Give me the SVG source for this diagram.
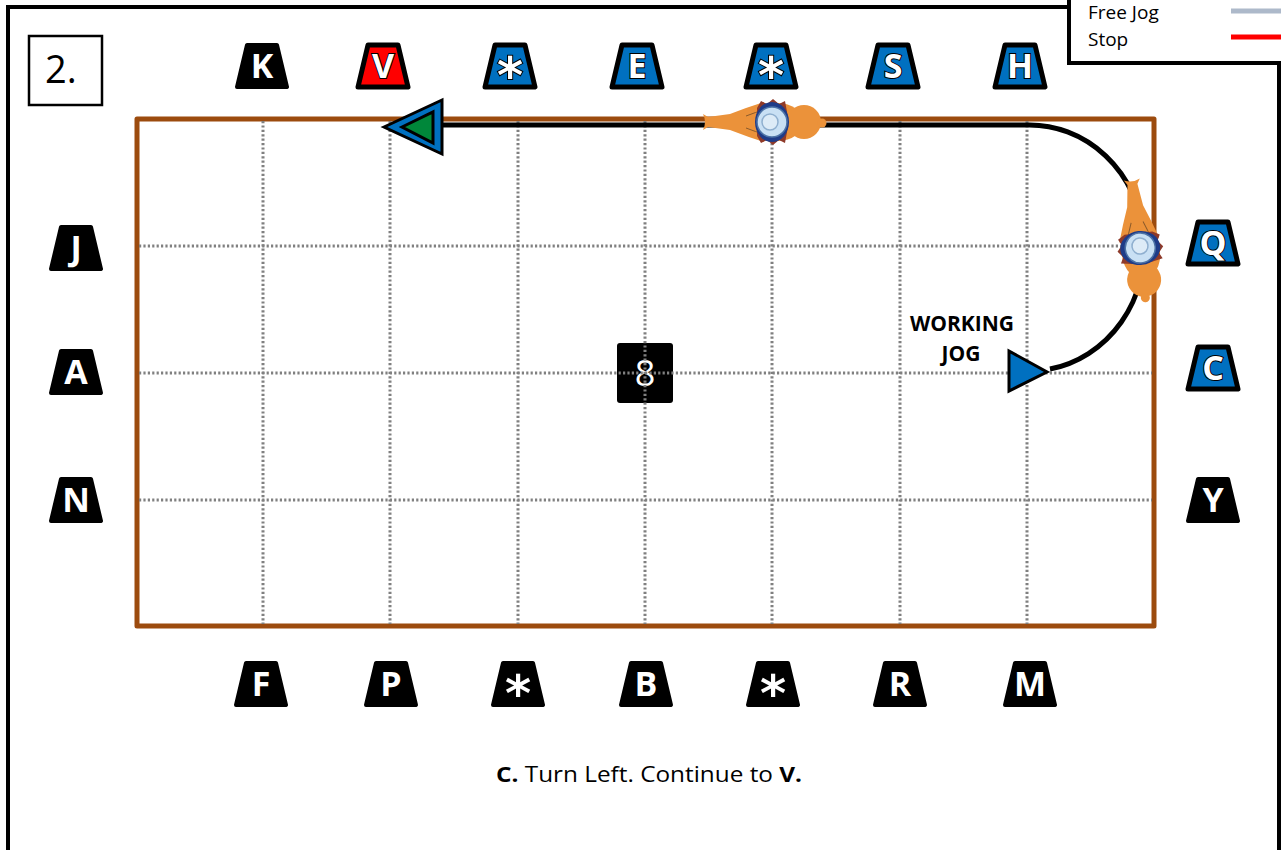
<svg xmlns="http://www.w3.org/2000/svg" xmlns:xlink="http://www.w3.org/1999/xlink" width="1281" height="850" viewBox="0 0 1281 850">
  <style>
    .frame { fill: none; stroke: #000; stroke-width: 4; }
    .arena { fill: none; stroke: #9C4B0E; stroke-width: 5; stroke-linejoin: round; }
    .grid line { stroke: #808080; stroke-width: 3; stroke-dasharray: 2.2 2.2; }
    .mk-black { fill: #000; stroke: #000; stroke-width: 4; stroke-linejoin: round; }
    .mk-blue { fill: #0070C0; stroke: #000; stroke-width: 5; stroke-linejoin: round; }
    .mk-red { fill: #FF0000; stroke: #000; stroke-width: 5; stroke-linejoin: round; }
    .letter { font-family: "Open Sans", "Liberation Sans", sans-serif; font-weight: bold; font-size: 34px; fill: #fff; text-anchor: middle; }
    .outlined { stroke: #000; stroke-width: 2; paint-order: stroke; }
    .star { font-family: "DejaVu Sans", sans-serif; font-weight: bold; font-size: 50px; fill: #fff; text-anchor: middle; }
    .label { font-family: "Open Sans", "Liberation Sans", sans-serif; fill: #000; }
    .route { fill: none; stroke: #000; stroke-width: 5; }
    .tri { stroke: #000; stroke-width: 3; stroke-linejoin: miter; }
  </style>
  <defs>
    <!-- arena letter marker: rounded trapezoid centred on the origin -->
    <path id="mk" d="M -15 -21 L 15 -21 L 25 21 L -25 21 Z"/>
    <!-- horse and rider seen from above, head pointing towards -x -->
    <g id="horse">
      <path d="M -67 -8 L -62 -5 L -40 -8 Q -22 -15 -6 -20 L -6 20 Q -22 15 -40 8 L -62 5 L -67 8 Q -63 0 -67 -8 Z" fill="#EB923A"/>
      <ellipse cx="8" cy="0" rx="25" ry="19" fill="#EB923A"/>
      <circle cx="34" cy="0" r="17" fill="#EB923A"/>
      <circle cx="52" cy="1" r="4.5" fill="#EB923A"/>
      <path d="M -24 -6 Q -14 -10 -6 -12 M -24 6 Q -14 10 -6 12" fill="none" stroke="#8A5A2B" stroke-width="1"/>
      <path d="M -13 -14 L -9 -21 L -3 -18 L 3 -23 L 9 -18 L 15 -21 L 17 -10 L 18 0 L 17 10 L 15 21 L 9 18 L 3 23 L -3 18 L -9 21 L -13 14 Z" fill="#8E3A2A"/>
      <ellipse cx="2" cy="0" rx="17" ry="20" fill="#1F3C88"/>
      <circle cx="2" cy="0" r="15" fill="#C9E0F4" stroke="#4D73A6" stroke-width="1.5"/>
      <circle cx="0" cy="0" r="8" fill="#DDEBF7" stroke="#8FAFCF" stroke-width="1.5"/>
    </g>
  </defs>

  <rect width="1281" height="850" fill="#fff"/>

  <!-- page frame -->
  <path class="frame" d="M 8 852 L 8 7 L 1069 7"/>
  <line class="frame" x1="1279" y1="63" x2="1279" y2="852"/>

  <!-- legend -->
  <g id="legend">
    <path class="frame" d="M 1069 -2 L 1069 63 L 1283 63" stroke-width="3"/>
    <text class="label" x="1088" y="19" font-size="19">Free Jog</text>
    <text class="label" x="1088" y="46" font-size="19">Stop</text>
    <line x1="1231" y1="11" x2="1281" y2="11" stroke="#ADB9CA" stroke-width="5"/>
    <line x1="1231" y1="37" x2="1281" y2="37" stroke="#FF0000" stroke-width="5"/>
  </g>

  <!-- figure number -->
  <g id="figure-number">
    <rect x="29" y="36" width="73" height="69" fill="#fff" stroke="#000" stroke-width="2.5"/>
    <text class="label" x="45" y="83" font-size="38">2.</text>
  </g>

  <!-- arena outline -->
  <rect id="arena" class="arena" x="137" y="119" width="1017" height="507"/>

  <!-- centre marker -->
  <g id="centre-8">
    <rect x="617" y="343" width="56" height="60" rx="3" fill="#000"/>
    <text x="645" y="386" font-family="Open Sans, Liberation Sans, sans-serif" font-size="36" fill="#fff" text-anchor="middle">8</text>
  </g>

  <!-- dotted grid -->
  <g class="grid">
    <line x1="263" y1="121" x2="263" y2="624"/>
    <line x1="390" y1="121" x2="390" y2="624"/>
    <line x1="518" y1="121" x2="518" y2="624"/>
    <line x1="645" y1="121" x2="645" y2="624"/>
    <line x1="772" y1="121" x2="772" y2="624"/>
    <line x1="900" y1="121" x2="900" y2="624"/>
    <line x1="1027" y1="121" x2="1027" y2="624"/>
    <line x1="139" y1="246" x2="1152" y2="246"/>
    <line x1="139" y1="373" x2="1152" y2="373"/>
    <line x1="139" y1="500" x2="1152" y2="500"/>
  </g>

  <!-- top markers -->
  <g id="marker-K" transform="translate(262 66)"><use xlink:href="#mk" class="mk-black"/><text class="letter" y="12">K</text></g>
  <g id="marker-V" transform="translate(383 66)"><use xlink:href="#mk" class="mk-red"/><text class="letter outlined" y="12">V</text></g>
  <g id="marker-top-star-1" transform="translate(510 66)"><use xlink:href="#mk" class="mk-blue"/><text class="star outlined" y="27">*</text></g>
  <g id="marker-E" transform="translate(637 66)"><use xlink:href="#mk" class="mk-blue"/><text class="letter outlined" y="12">E</text></g>
  <g id="marker-top-star-2" transform="translate(771 66)"><use xlink:href="#mk" class="mk-blue"/><text class="star outlined" y="27">*</text></g>
  <g id="marker-S" transform="translate(893 66)"><use xlink:href="#mk" class="mk-blue"/><text class="letter outlined" y="12">S</text></g>
  <g id="marker-H" transform="translate(1020 66)"><use xlink:href="#mk" class="mk-blue"/><text class="letter outlined" y="12">H</text></g>

  <!-- left markers -->
  <g id="marker-J" transform="translate(76 248)"><use xlink:href="#mk" class="mk-black"/><text class="letter" y="12">J</text></g>
  <g id="marker-A" transform="translate(76 372)"><use xlink:href="#mk" class="mk-black"/><text class="letter" y="12">A</text></g>
  <g id="marker-N" transform="translate(76 500)"><use xlink:href="#mk" class="mk-black"/><text class="letter" y="12">N</text></g>

  <!-- right markers -->
  <g id="marker-Q" transform="translate(1213 243)"><use xlink:href="#mk" class="mk-blue"/><text class="letter outlined" y="12">Q</text></g>
  <g id="marker-C" transform="translate(1213 368)"><use xlink:href="#mk" class="mk-blue"/><text class="letter outlined" y="12">C</text></g>
  <g id="marker-Y" transform="translate(1213 500)"><use xlink:href="#mk" class="mk-black"/><text class="letter" y="12">Y</text></g>

  <!-- bottom markers -->
  <g id="marker-F" transform="translate(261 684)"><use xlink:href="#mk" class="mk-black"/><text class="letter" y="12">F</text></g>
  <g id="marker-P" transform="translate(391 684)"><use xlink:href="#mk" class="mk-black"/><text class="letter" y="12">P</text></g>
  <g id="marker-bottom-star-1" transform="translate(518 684)"><use xlink:href="#mk" class="mk-black"/><text class="star" y="27">*</text></g>
  <g id="marker-B" transform="translate(646 684)"><use xlink:href="#mk" class="mk-black"/><text class="letter" y="12">B</text></g>
  <g id="marker-bottom-star-2" transform="translate(773 684)"><use xlink:href="#mk" class="mk-black"/><text class="star" y="27">*</text></g>
  <g id="marker-R" transform="translate(900 684)"><use xlink:href="#mk" class="mk-black"/><text class="letter" y="12">R</text></g>
  <g id="marker-M" transform="translate(1030 684)"><use xlink:href="#mk" class="mk-black"/><text class="letter" y="12">M</text></g>

  <!-- route: working jog from C, turning left round to V -->
  <g id="connectors">
    <path class="route" d="M 1050 369 A 115 123 0 0 0 1027 125 L 430 125"/>
  </g>

  <!-- start triangle at C -->
  <g id="start">
    <polygon class="tri" points="1009,351 1009,391 1047,372" fill="#0070C0"/>
  </g>

  <!-- finish triangle at V -->
  <g id="finish">
    <polygon class="tri" points="384,127 442,100 442,154" fill="#0070C0"/>
    <polygon class="tri" points="402,127 433,112 433,143" fill="#00873A"/>
  </g>

  <!-- horses on the route -->
  <g id="horse-top"><use xlink:href="#horse" transform="translate(770 122)"/></g>
  <g id="horse-right"><use xlink:href="#horse" transform="translate(1140 246) rotate(83)"/></g>

  <!-- labels -->
  <g id="working-jog">
    <text class="label" x="962" y="331" font-size="21" font-weight="bold" text-anchor="middle">WORKING</text>
    <text class="label" x="961" y="361" font-size="21" font-weight="bold" text-anchor="middle">JOG</text>
  </g>
  <g id="caption">
    <text class="label" x="496" y="782" font-size="22" textLength="306" lengthAdjust="spacingAndGlyphs"><tspan font-weight="bold">C.</tspan> Turn Left. Continue to <tspan font-weight="bold">V.</tspan></text>
  </g>
</svg>
